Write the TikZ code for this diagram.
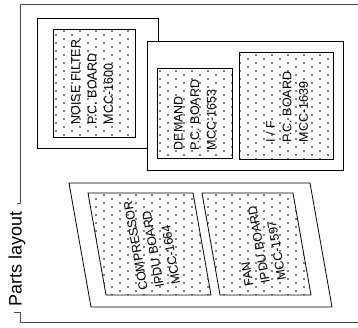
\documentclass[tikz,border=0pt]{standalone}
\usepackage{fontspec}
\setmainfont{Liberation Sans}
\usetikzlibrary{patterns.meta}

% sparse staggered dots for the boards
\tikzdeclarepattern{
  name=boarddots, type=uncolored,
  bottom left={(-1pt,-1pt)}, top right={(15pt,7pt)},
  tile size={(16pt,8pt)},
  code={\fill (0pt,0pt) circle (0.8pt); \fill (8pt,4pt) circle (0.8pt);}
}

\begin{document}
\begin{tikzpicture}[
    x=1pt, y=-1pt,
    frame/.style={draw=black!70, line width=1pt},
    case/.style={draw=black, line width=0.8pt, fill=white},
    board/.style={draw=black, line width=0.8pt, pattern={boarddots}, pattern color=black},
    label/.style={font=\fontsize{12.5}{16.5}\selectfont, align=left, rotate=90, inner sep=0pt}
]
    \useasboundingbox (0,0) rectangle (358,327);

    % Outer frame, open on the right
    \draw[frame] (358,4) -- (20,4) -- (20,203) -- (17,203);
    \draw[frame] (14,312) -- (20,312) -- (20,322) -- (358,322);
    \node[font=\fontsize{18}{18}\selectfont, rotate=90, inner sep=0pt] (title) at (17,259) {Parts layout};

    % Noise filter case
    \draw[case] (37,18) rectangle (158,148);
    \draw[board] (53,29) rectangle (135,137);
    \node[label] (noise) at (92,82) {NOISE FILTER\\P.C. BOARD\\MCC-1600};

    % Demand and I/F case
    \draw[case] (147,41) rectangle (343,170);
    \draw[board] (157,68) rectangle (232,158);
    \draw[board] (239,52) rectangle (333,159);
    \node[label] (demand) at (195,115) {DEMAND\\P.C. BOARD\\MCC-1653};
    \node[label] (iface) at (287,107) {I / F\\P.C. BOARD\\MCC-1639};

    % IPDU case (slanted)
    \draw[case] (69,183) -- (310,183) -- (332,307) -- (91,307) -- cycle;
    \draw[board] (88,193) -- (193,193) -- (211,295) -- (106,295) -- cycle;
    \draw[board] (202,193) -- (293,193) -- (311,295) -- (220,295) -- cycle;
    \node[label, rotate=10] (comp) at (152,243) {COMPRESSOR\\IPDU BOARD\\MCC-1664};
    \node[label, rotate=10] (fan) at (259,245) {FAN\\IPDU BOARD\\MCC-1597};
\end{tikzpicture}
\end{document}
